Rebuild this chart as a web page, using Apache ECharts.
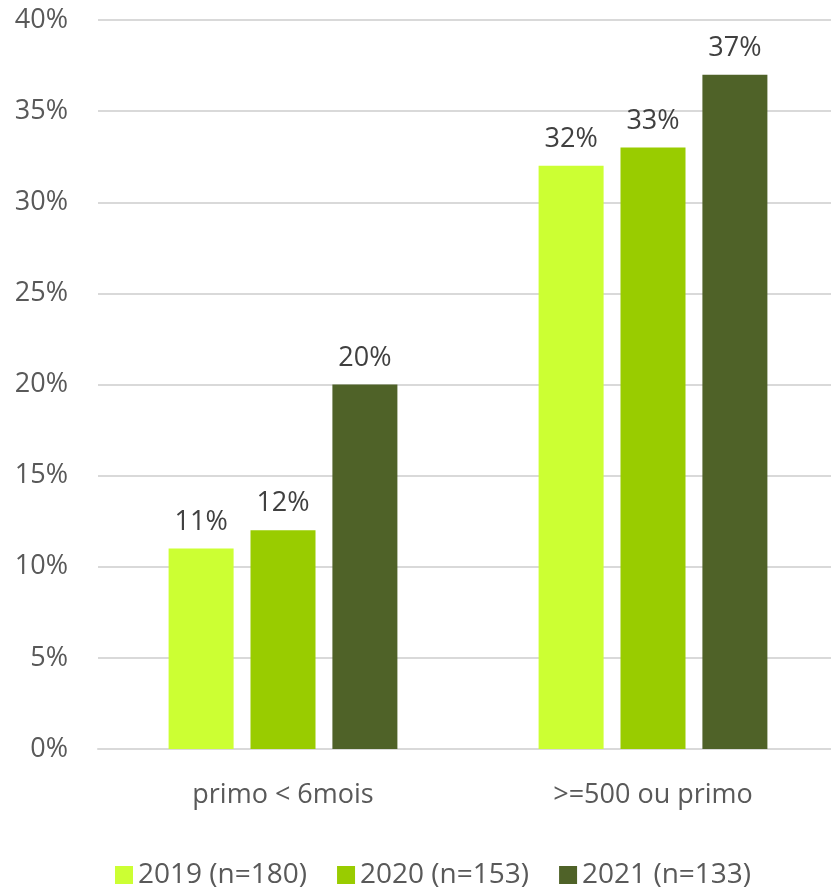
<!DOCTYPE html>
<html>
<head>
<meta charset="utf-8">
<script src="https://cdn.jsdelivr.net/npm/echarts@6/dist/echarts.min.js"></script>
<style>
  html, body { margin: 0; padding: 0; background: #fff; }
  #main { width: 831px; height: 893px; }
</style>
</head>
<body>
<div id="main"></div>
<script>
// données
const categories = ['primo < 6mois', '>=500 ou primo'];
const seriesNames = ['2019 (n=180)', '2020 (n=153)', '2021 (n=133)'];
const values2019 = [11, 32];
const values2020 = [12, 33];
const values2021 = [20, 37];
const colors = ['#CCFF33', '#99CC00', '#4F6228'];

const font = 'Open Sans';

const myChart = echarts.init(document.getElementById('main'));

const makeSeries = function (name, data, color) {
  return {
    name: name,
    type: 'bar',
    data: data,
    barWidth: 65,
    barGap: '26%',
    itemStyle: { color: color },
    label: {
      show: true,
      position: 'top',
      distance: 13,
      formatter: '{c}%',
      color: '#404040',
      fontFamily: font,
      fontSize: 27
    }
  };
};

const option = {
  animation: false,
  color: colors,
  grid: { left: 98, width: 740, top: 20, bottom: 144, outerBoundsMode: 'none' },
  legend: {
    bottom: -1,
    left: 110,
    itemWidth: 18,
    itemHeight: 18,
    itemGap: 30,
    icon: 'rect',
    textStyle: { fontFamily: font, fontSize: 28, color: '#595959' },
    data: seriesNames
  },
  xAxis: {
    type: 'category',
    data: categories,
    axisTick: { show: false },
    axisLine: { lineStyle: { color: '#d9d9d9', width: 2 } },
    axisLabel: { margin: 33, fontFamily: font, fontSize: 27, color: '#595959' }
  },
  yAxis: {
    type: 'value',
    min: 0,
    max: 40,
    interval: 5,
    axisLine: { show: false },
    axisTick: { show: false },
    splitLine: { lineStyle: { color: '#d9d9d9', width: 2 } },
    axisLabel: {
      formatter: '{value}%',
      margin: 30,
      fontFamily: font,
      fontSize: 27,
      color: '#595959'
    }
  },
  series: [
    makeSeries(seriesNames[0], values2019, colors[0]),
    makeSeries(seriesNames[1], values2020, colors[1]),
    makeSeries(seriesNames[2], values2021, colors[2])
  ]
};

myChart.setOption(option);
</script>
</body>
</html>
